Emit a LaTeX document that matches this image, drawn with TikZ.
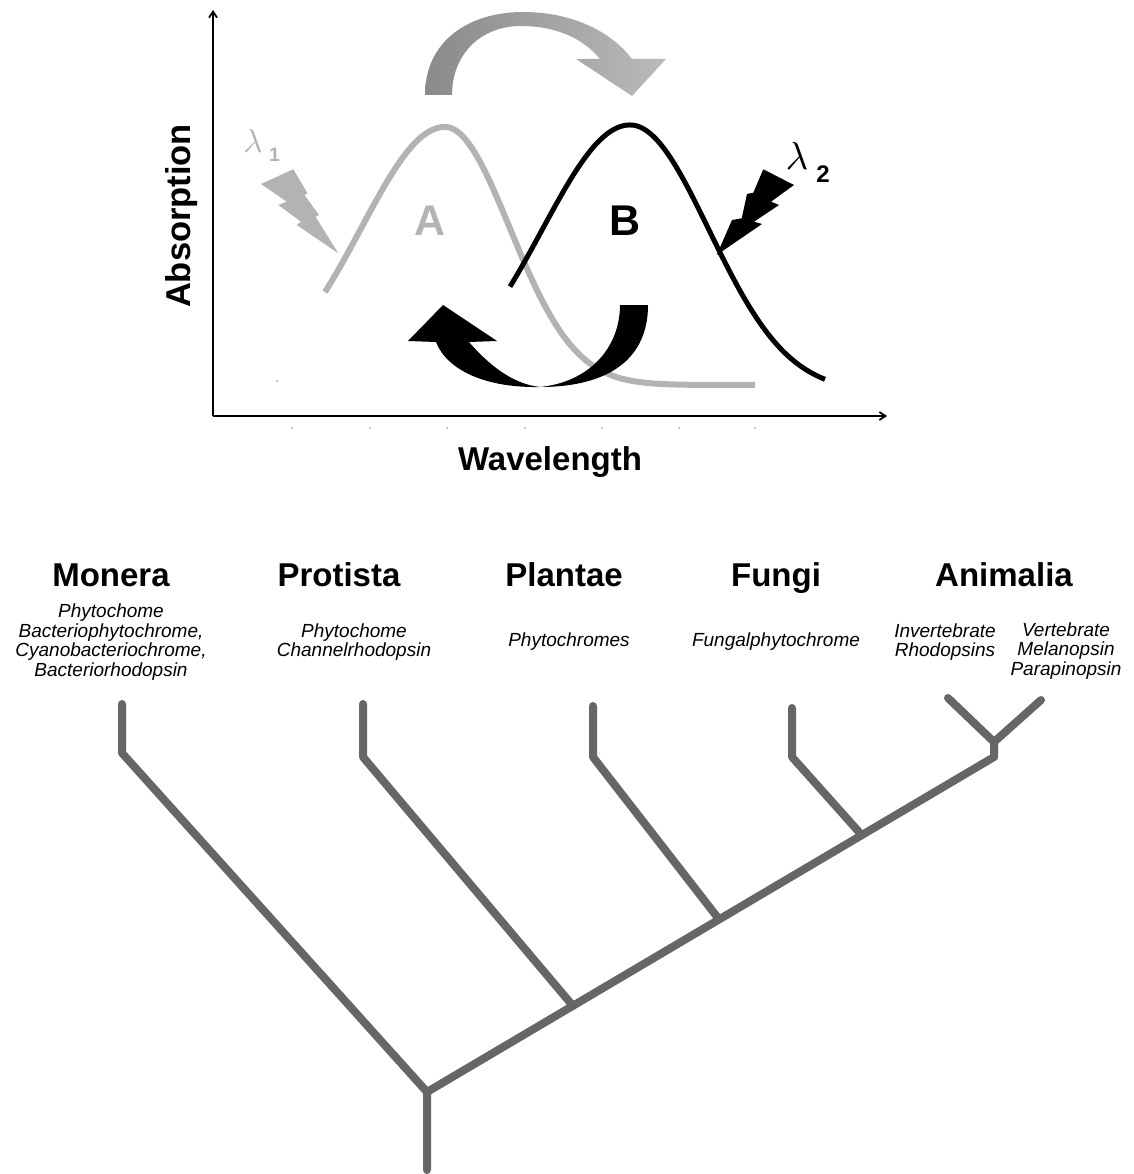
\documentclass[tikz,border=0pt]{standalone}
\usepackage{fontspec}
\setmainfont{Liberation Sans}
\usetikzlibrary{arrows.meta}
\definecolor{lgray}{HTML}{B3B3B3}
\definecolor{mgray}{HTML}{8A8A8A}
\definecolor{tgray}{HTML}{666666}
\begin{document}
\begin{tikzpicture}[x=1pt,y=-1pt,
  axis/.style={line width=1.8pt,black,-{Straight Barb[length=6pt,width=8pt]}},
  treeline/.style={line width=8pt,tgray,line cap=round,line join=round},
  kingdom/.style={font=\fontsize{33}{36}\selectfont\bfseries,anchor=base},
  protein/.style={font=\fontsize{19}{19.5}\selectfont\itshape,align=center},
  axlabel/.style={font=\fontsize{34.5}{36}\selectfont\bfseries,anchor=base},
  lam/.style={font=\normalsize,anchor=base,inner sep=0pt},
  speck/.style={fill=lgray,draw=none}]
\useasboundingbox (0,0) rectangle (1133,1174);

% ---------- axes ----------
\coordinate (O) at (213,416);
\coordinate (ytop) at (213,10);
\coordinate (xend) at (887,416);
\draw[axis] (O) -- (ytop);
\draw[axis] (O) -- (xend);
\foreach \t in {292,370,447,525,602,679,755}{\fill[speck] (\t,428) circle (1.2);}
\fill[speck] (277,381) circle (1.2);

\node[axlabel,rotate=90] (absorp) at (190,216) {Absorption};
\node[axlabel,font=\fontsize{33}{36}\selectfont\bfseries] (wave) at (550,470) {Wavelength};

% ---------- absorption curves ----------
\draw[lgray,line width=6pt] plot[domain=325:445,samples=60,smooth] (\x,{385-258*exp(-((\x-445)/84)^2/2)})
  -- plot[domain=445:755,samples=120,smooth] (\x,{385-258*exp(-((\x-445)/65)^2/2)});
\draw[black,line width=5pt] plot[domain=510:630,samples=60,smooth] (\x,{392-267*exp(-((\x-630)/88)^2/2)})
  -- plot[domain=630:825,samples=100,smooth] (\x,{392-267*exp(-((\x-630)/79)^2/2)});

\node[font=\fontsize{43}{46}\selectfont\bfseries,text=lgray,anchor=base] (A) at (430,236) {A};
\node[font=\fontsize{43}{46}\selectfont\bfseries,anchor=base] (B) at (625,236) {B};

% ---------- lambda labels ----------
\node[lam,text=lgray,scale=3.3] (l1) at (253,153) {$\lambda$};
\node[font=\fontsize{19.5}{22}\selectfont\bfseries,text=lgray,anchor=base] (l1s) at (274.5,162) {1};
\node[lam,scale=3.9] (l2) at (797,170) {$\lambda$};
\node[font=\fontsize{24}{26}\selectfont\bfseries,anchor=base] (l2s) at (823,183) {2};

% ---------- lightning bolts ----------
\fill[lgray] (261,184) -- (293.3,169.3) -- (307.5,193.3) -- (304.5,195) -- (319,215)
  -- (315.5,216.7) -- (338.3,253.3) -- (296.7,225) -- (301,221.7) -- (278.3,205)
  -- (286.7,201.7) -- cycle;
\fill[black] (763.3,169.3) -- (794,185) -- (771,201.7) -- (779,205) -- (754,221.7)
  -- (762,224) -- (716.7,255) -- (732,220) -- (741.7,218.3) -- (747,194)
  -- (753.3,192.7) -- cycle;

% ---------- gray curved arrow (A -> B) ----------
\shade[left color=mgray,right color=lgray!90]
  (425,95) .. controls (425,40) and (470,12) .. (523,12)
  .. controls (570,12) and (610,30) .. (632,59)
  -- (666,59) -- (632,96) -- (576,59) -- (600,59)
  .. controls (583,38) and (555,26) .. (521,26)
  .. controls (480,26) and (452,55) .. (452,95) -- cycle;

% ---------- black curved arrow (B -> A) ----------
\fill[black]
  (648,305) .. controls (648,365) and (600,387) .. (540,387)
  .. controls (485,388) and (447,370) .. (436,342)
  -- (408,341) -- (443,305) -- (497,341) -- (469,342)
  .. controls (488,364) and (512,384) .. (540,387)
  .. controls (590,382) and (620,347) .. (620,305) -- cycle;

% ---------- tree ----------
\coordinate (root) at (427,1170);
\coordinate (r0) at (427,1092);
\coordinate (monT) at (122,704);
\coordinate (monB) at (122,753);
\coordinate (proT) at (363,704);
\coordinate (proB) at (363,757);
\coordinate (proJ) at (573,1006);
\coordinate (plaT) at (593,706);
\coordinate (plaB) at (593,757);
\coordinate (plaJ) at (718,918);
\coordinate (funT) at (792,708);
\coordinate (funB) at (792,757);
\coordinate (funJ) at (859,832);
\coordinate (aniE) at (994,757);
\coordinate (aniS) at (994,742);
\coordinate (aniL) at (948,698);
\coordinate (aniR) at (1041,700);

\draw[treeline] (root) -- (r0) -- (monB) -- (monT);
\draw[treeline] (r0) -- (aniE) -- (aniS) -- (aniL);
\draw[treeline] (aniS) -- (aniR);
\draw[treeline] (proJ) -- (proB) -- (proT);
\draw[treeline] (plaJ) -- (plaB) -- (plaT);
\draw[treeline] (funJ) -- (funB) -- (funT);

% ---------- kingdom labels ----------
\node[kingdom] (mon) at (111,586) {Monera};
\node[kingdom] (pro) at (339,586) {Protista};
\node[kingdom] (pla) at (564,586) {Plantae};
\node[kingdom] (fun) at (776,586) {Fungi};
\node[kingdom] (ani) at (1004,586) {Animalia};

\node[protein] (monp) at (111,642) {Phytochome\\Bacteriophytochrome,\\Cyanobacteriochrome,\\Bacteriorhodopsin};
\node[protein] (prop) at (354,642) {Phytochome\\Channelrhodopsin};
\node[protein] (plap) at (569,642) {Phytochromes};
\node[protein] (funp) at (776,642) {Fungalphytochrome};
\node[protein] (inv) at (945,642) {Invertebrate\\Rhodopsins};
\node[protein] (ver) at (1066,651) {Vertebrate\\Melanopsin\\Parapinopsin};
\end{tikzpicture}
\end{document}
